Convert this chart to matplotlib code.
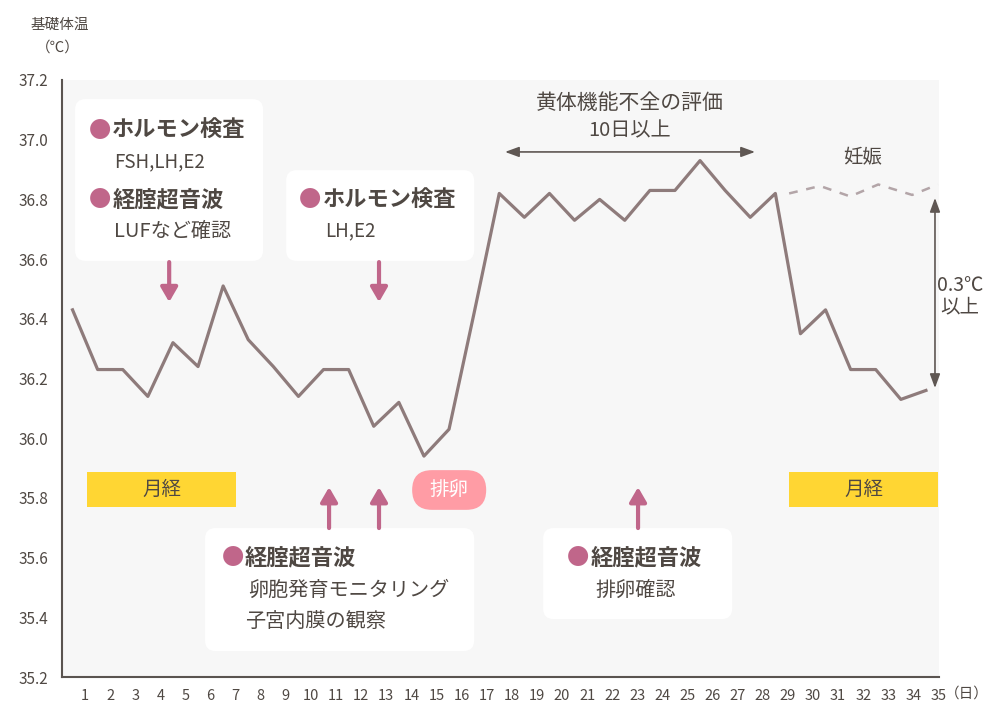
import matplotlib
matplotlib.use("Agg")
import matplotlib.pyplot as plt
from matplotlib.patches import FancyBboxPatch, Rectangle

plt.rcParams['font.family'] = ['Noto Sans CJK JP', 'DejaVu Sans']

# ---------------- data ----------------
days = list(range(1, 36))
temps = [36.43, 36.23, 36.23, 36.14, 36.32, 36.24, 36.51, 36.33, 36.24, 36.14,
         36.23, 36.23, 36.04, 36.12, 35.94, 36.03, 36.42, 36.82, 36.74, 36.82,
         36.73, 36.80, 36.73, 36.83, 36.83, 36.93, 36.83, 36.74, 36.82, 36.35,
         36.43, 36.23, 36.23, 36.13, 36.16]
preg_x = [29.05, 30.28, 31.48, 32.6, 33.95, 34.98]
preg_temps = [36.82, 36.845, 36.81, 36.85, 36.815, 36.85]
yticks = [35.2, 35.4, 35.6, 35.8, 36.0, 36.2, 36.4, 36.6, 36.8, 37.0, 37.2]
xtick_labels = [str(d) for d in days]

# ---------------- style ----------------
C_LINE = '#8E7B7B'
C_DASH = '#B3A5A8'
C_TEXT = '#4F4843'
C_MAUVE = '#C0668A'
C_YELLOW = '#FFD633'
C_PILL = '#FF9CA5'
C_BG = '#F7F7F7'

fig = plt.figure(figsize=(10, 7.2), dpi=100)
ax = fig.add_axes([0.062, 1 - 677 / 720, 0.877, 597 / 720])
ax.set_facecolor(C_BG)
ax.set_xlim(0.08, 35.02)
ax.set_ylim(35.2, 37.2)
ASPECT = 25.1 / 298.5  # y-units per x-unit for equal pixel rounding

for s in ['top', 'right']:
    ax.spines[s].set_visible(False)
for s in ['left', 'bottom']:
    ax.spines[s].set_color('#5A5450')
    ax.spines[s].set_linewidth(1.5)

ax.set_yticks(yticks)
ax.set_yticklabels([f'{v:.1f}' for v in yticks], fontsize=11, color=C_TEXT)
ax.set_xticks(days)
ax.set_xticklabels(xtick_labels, fontsize=10.5, color=C_TEXT)
ax.tick_params(axis='both', length=0)
ax.tick_params(axis='y', pad=10)
ax.tick_params(axis='x', pad=9)

# main line (points sit half a day left of their label)
xs = [d - 0.5 for d in days]
ax.plot(xs, temps, color=C_LINE, lw=2.3, solid_joinstyle='round', zorder=5)
ax.plot(preg_x, preg_temps, color=C_DASH, lw=1.8, ls=(0, (3.5, 3.5)), zorder=4)


def rbox(x0, x1, y0, y1, color, r):
    p = FancyBboxPatch((x0, y0), x1 - x0, y1 - y0,
                       boxstyle=f'round,pad=0,rounding_size={r}',
                       mutation_aspect=ASPECT, fc=color, ec='none', zorder=3)
    ax.add_patch(p)


# white annotation boxes
rbox(0.60, 8.09, 36.594, 37.136, 'white', 0.42)
rbox(9.01, 16.50, 36.594, 36.898, 'white', 0.42)
rbox(5.78, 16.50, 35.287, 35.699, 'white', 0.42)
rbox(19.25, 26.78, 35.394, 35.699, 'white', 0.42)

# menstruation bars
for x0 in (1.08, 29.05):
    ax.add_patch(Rectangle((x0, 35.770), 5.94, 0.117, fc=C_YELLOW, ec='none', zorder=3))
    ax.text(x0 + 2.97, 35.829, '月経', ha='center', va='center', fontsize=14,
            color=C_TEXT, zorder=6)

# ovulation pill
rbox(14.03, 16.98, 35.760, 35.893, C_PILL, 0.79)
ax.text(15.5, 35.827, '排卵', ha='center', va='center', fontsize=14, color='white', zorder=6)


def bullet_title(xb, xt, y, title):
    ax.text(xb, y, '●', ha='center', va='center', fontsize=16, color=C_MAUVE, zorder=6)
    ax.text(xt, y, title, ha='left', va='center', fontsize=16, fontweight='bold',
            color=C_TEXT, zorder=6)


def sub(x, y, s, size=14.5):
    ax.text(x, y, s, ha='left', va='center', fontsize=size, color=C_TEXT, zorder=6)


bullet_title(1.60, 2.08, 37.032, 'ホルモン検査')
sub(2.16, 36.925, 'FSH,LH,E2', 13.5)
bullet_title(1.60, 2.08, 36.798, '経腟超音波')
sub(2.16, 36.694, 'LUFなど確認')

bullet_title(9.96, 10.48, 36.798, 'ホルモン検査')
sub(10.56, 36.694, 'LH,E2', 13.5)

bullet_title(6.90, 7.37, 35.599, '経腟超音波')
sub(7.49, 35.491, '卵胞発育モニタリング')
sub(7.37, 35.384, '子宮内膜の観察')

bullet_title(20.64, 21.16, 35.599, '経腟超音波')
sub(21.32, 35.491, '排卵確認')

# mauve arrows
arr = dict(arrowstyle='-|>,head_length=0.62,head_width=0.36', color=C_MAUVE, lw=3,
           mutation_scale=14, shrinkA=0, shrinkB=0)
for x in (4.35, 12.71):
    ax.annotate('', xy=(x, 36.456), xytext=(x, 36.590), arrowprops=arr, zorder=6)
for x in (10.72, 12.71, 23.03):
    ax.annotate('', xy=(x, 35.836), xytext=(x, 35.699), arrowprops=arr, zorder=6)

# gray double arrows
darr = dict(arrowstyle='<|-|>,head_length=0.6,head_width=0.22', color='#5F5753', lw=1.2,
            mutation_scale=14, shrinkA=0, shrinkB=0)
ax.annotate('', xy=(17.73, 36.959), xytext=(27.69, 36.959), arrowprops=darr, zorder=6)
ax.annotate('', xy=(34.86, 36.805), xytext=(34.86, 36.168), arrowprops=darr, zorder=6)

ax.text(22.71, 37.123, '黄体機能不全の評価', ha='center', va='center', fontsize=15, color=C_TEXT)
ax.text(22.71, 37.030, '10日以上', ha='center', va='center', fontsize=14.5, color=C_TEXT)
ax.text(31.96, 36.94, '妊娠', ha='center', va='center', fontsize=14, color=C_TEXT)
ax.text(35.86, 36.513, '0.3℃', ha='center', va='center', fontsize=14, color=C_TEXT,
        clip_on=False)
ax.text(35.86, 36.440, '以上', ha='center', va='center', fontsize=14, color=C_TEXT,
        clip_on=False)

# axis titles
ax.text(-0.002, 1.092, '基礎体温', transform=ax.transAxes, ha='center', va='center',
        fontsize=10.5, color=C_TEXT)
ax.text(-0.005, 1.054, '（℃）', transform=ax.transAxes, ha='center', va='center',
        fontsize=10.5, color=C_TEXT)
ax.text(36.14, -0.028, '（日）', transform=ax.get_xaxis_transform(), ha='center',
        va='center', fontsize=10.5, color=C_TEXT)

fig.savefig('out.png', dpi=100, facecolor='white')
